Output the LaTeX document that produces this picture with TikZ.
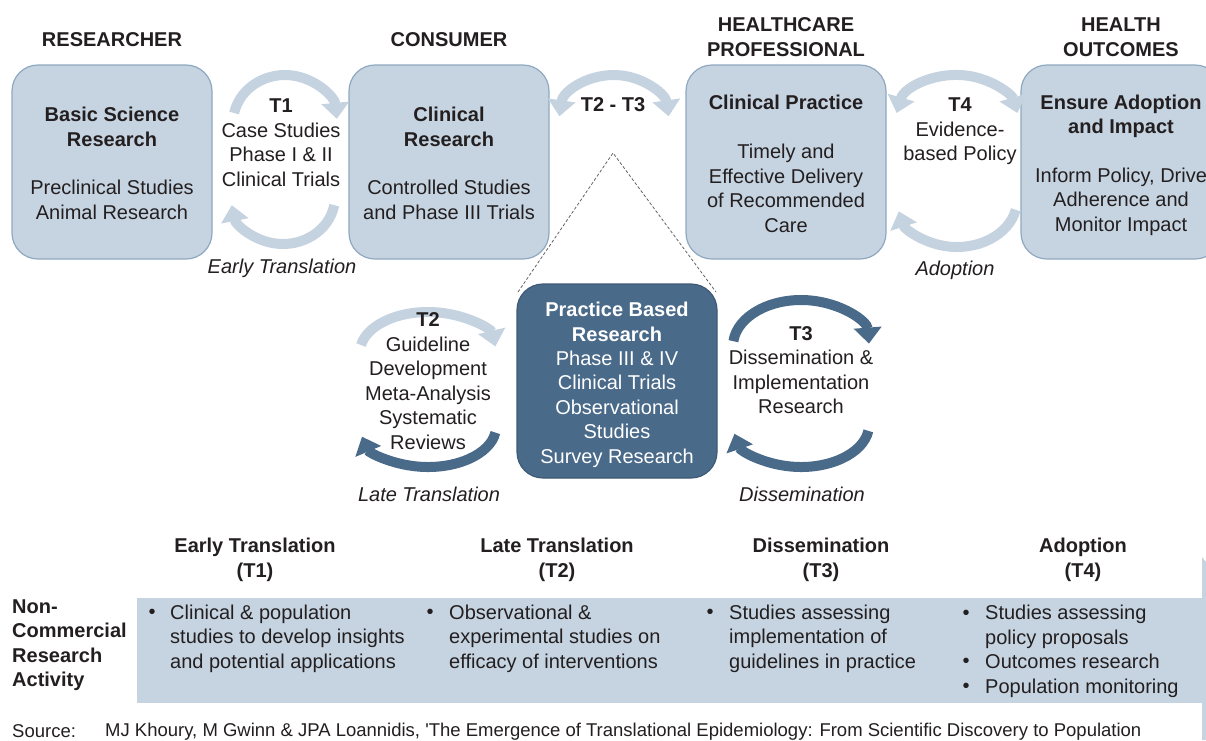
\documentclass[tikz,border=0pt]{standalone}
\usepackage{fontspec}
\setmainfont{Liberation Sans}
\usetikzlibrary{arrows.meta}
\definecolor{lightfill}{RGB}{198,212,225}
\definecolor{lightborder}{RGB}{143,168,192}
\definecolor{darkfill}{RGB}{74,106,138}
\definecolor{arrlight}{RGB}{197,211,224}
\definecolor{arrdark}{RGB}{74,106,138}
\definecolor{txt}{RGB}{35,31,32}
\definecolor{dashgrey}{RGB}{100,100,100}
\tikzset{
  lightbox/.style={draw=lightborder, line width=1.2pt, fill=lightfill, rounded corners=26pt, minimum width=200pt, minimum height=194pt, inner sep=0pt},
  darkbox/.style={draw=darkfill!85!black, line width=1.2pt, fill=darkfill, rounded corners=26pt, minimum width=200pt, minimum height=194pt, inner sep=0pt},
  txtnode/.style={text=txt, align=center, inner sep=0pt, font=\fontsize{20}{24.5}\selectfont},
  boldtxt/.style={txtnode, font=\fontsize{20}{24.5}\selectfont\bfseries},
  itxt/.style={txtnode, font=\fontsize{20}{24.5}\selectfont\itshape},
  lefttxt/.style={txtnode, align=left, anchor=west},
  arrl/.style={draw=arrlight, line width=10pt},
  arrd/.style={draw=arrdark, line width=10pt},
  tipl/.style={-{Triangle[width=27pt,length=16pt]}},
  tipboth/.style={{Triangle[width=27pt,length=16pt]}-{Triangle[width=27pt,length=16pt]}},
}
\begin{document}
\begin{tikzpicture}[x=1pt,y=-1pt]
\useasboundingbox (0,0) rectangle (1206,740);
\fill[white] (0,0) rectangle (1206,740);

% headers
\node[boldtxt] (hres) at (112,40) {RESEARCHER};
\node[boldtxt] (hcon) at (449,40) {CONSUMER};
\node[boldtxt] (hhcp) at (786,37) {HEALTHCARE\\PROFESSIONAL};
\node[boldtxt] (hout) at (1121,37) {HEALTH\\OUTCOMES};

% boxes
\node[lightbox] (bsr) at (112,162) {};
\node[lightbox] (cr) at (449,162) {};
\node[lightbox] (cp) at (786,162) {};
\node[lightbox] (ea) at (1121,162) {};
\node[darkbox] (pbr) at (617,381) {};

\node[boldtxt] (bsrt) at (112,127) {Basic Science\\Research};
\node[txtnode] (bsrb) at (112,200) {Preclinical Studies\\Animal Research};
\node[boldtxt] (crt) at (449,127) {Clinical\\Research};
\node[txtnode] (crb) at (449,200) {Controlled Studies\\and Phase III Trials};
\node[boldtxt] (cpt) at (786,102) {Clinical Practice};
\node[txtnode] (cpb) at (786,188.5) {Timely and\\Effective Delivery\\of Recommended\\Care};
\node[boldtxt] (eat) at (1121,116.5) {Ensure Adoption\\and Impact};
\node[txtnode] (eab) at (1121,201.5) {Inform Policy, Drive\\Adherence and\\Monitor Impact};
\node[boldtxt, text=white] (pbrt) at (617,322) {Practice Based\\Research};
\node[txtnode, text=white] (pbrb) at (617,409) {Phase III \& IV\\Clinical Trials\\Observational\\Studies\\Survey Research};

% T1
\coordinate (t1top) at (285,123);
\coordinate (t1bot) at (283,197);
\draw[arrl, tipl] (t1top) ++(192:52 and 48) arc[start angle=192, end angle=355, x radius=52, y radius=48];
\draw[arrl, tipl] (t1bot) ++(10:52 and 47) arc[start angle=10, end angle=170, x radius=52, y radius=47];
\node[txtnode] (t1) at (281,142.5) {\textbf{T1}\\Case Studies\\Phase I \& II\\Clinical Trials};
\node[itxt] (early) at (282,268) {Early Translation};

% T2-T3
\coordinate (t23c) at (614,122);
\draw[arrl, tipboth] (t23c) ++(187:55 and 47) arc[start angle=187, end angle=353, x radius=55, y radius=47];
\node[boldtxt] (t23) at (613,105) {T2 - T3};
\coordinate (apex) at (613,153);
\coordinate (dl) at (518,292);
\coordinate (dr) at (716,292);
\draw[dashgrey, line width=0.8pt, dash pattern=on 3pt off 2pt] (dl) -- (apex) -- (dr);

% T4
\coordinate (t4top) at (957,124);
\coordinate (t4bot) at (957,200);
\draw[arrl, tipboth] (t4top) ++(193:62 and 49) arc[start angle=193, end angle=347, x radius=62, y radius=49];
\draw[arrl, tipl] (t4bot) ++(12:60 and 47) arc[start angle=12, end angle=166, x radius=60, y radius=47];
\node[txtnode] (t4) at (960,131.5) {\textbf{T4}\\Evidence-\\based Policy};
\node[itxt] (adopt) at (955,270) {Adoption};

% T2 lower
\coordinate (t2top) at (428,352);
\coordinate (t2bot) at (428,427);
\draw[arrl, tipl] (t2top) ++(190:68 and 40) arc[start angle=190, end angle=352, x radius=68, y radius=40];
\draw[arrd, tipl] (t2bot) ++(8:68 and 40) arc[start angle=8, end angle=166, x radius=68, y radius=40];
\node[txtnode] (t2) at (428,381) {\textbf{T2}\\Guideline\\Development\\Meta-Analysis\\Systematic\\Reviews};
\node[itxt] (late) at (429,494) {Late Translation};

% T3 lower
\coordinate (t3top) at (801,346);
\coordinate (t3bot) at (801,425);
\draw[arrd, tipl] (t3top) ++(186:68 and 46) arc[start angle=186, end angle=357, x radius=68, y radius=46];
\draw[arrd, tipl] (t3bot) ++(8:68 and 42) arc[start angle=8, end angle=168, x radius=68, y radius=42];
\node[txtnode] (t3) at (801,370) {\textbf{T3}\\Dissemination \&\\Implementation\\Research};
\node[itxt] (diss) at (802,494) {Dissemination};

% bottom section
\fill[lightfill] (137,598) rectangle (1206,703);
\fill[lightfill] (1202,557) -- (1206,562) -- (1206,740) -- (1202,740) -- cycle;
\node[boldtxt] (h1) at (255,560) {Early Translation\\(T1)};
\node[boldtxt] (h2) at (557,560) {Late Translation\\(T2)};
\node[boldtxt] (h3) at (821,560) {Dissemination\\(T3)};
\node[boldtxt] (h4) at (1083,560) {Adoption\\(T4)};
\node[boldtxt, align=left, anchor=west] (nc) at (12,645) {Non-\\Commercial\\Research\\Activity};

\node[txtnode] (b1) at (152,614) {•};
\node[lefttxt] (c1) at (170,638.5) {Clinical \& population\\studies to develop insights\\and potential applications};
\node[txtnode] (b2) at (430,614) {•};
\node[lefttxt] (c2) at (449,638.5) {Observational \&\\experimental studies on\\efficacy of interventions};
\node[txtnode] (b3) at (710,614) {•};
\node[lefttxt] (c3) at (729,638.5) {Studies assessing\\implementation of\\guidelines in practice};
\node[txtnode] (b4a) at (966,615) {•};
\node[txtnode] (b4b) at (966,663) {•};
\node[txtnode] (b4c) at (966,688) {•};
\node[lefttxt] (c4) at (985,651.5) {Studies assessing\\policy proposals\\Outcomes research\\Population monitoring};

% source
\node[txtnode, anchor=west, font=\fontsize{18.5}{20}\selectfont] (src) at (12,731.5) {Source:};
\node[txtnode, anchor=west, font=\fontsize{18.5}{20}\selectfont] (srct) at (105,731.5) {MJ Khoury, M Gwinn \& JPA Loannidis, \textquotesingle The Emergence of Translational Epidemiology: From Scientific Discovery to Population};
\end{tikzpicture}
\end{document}
